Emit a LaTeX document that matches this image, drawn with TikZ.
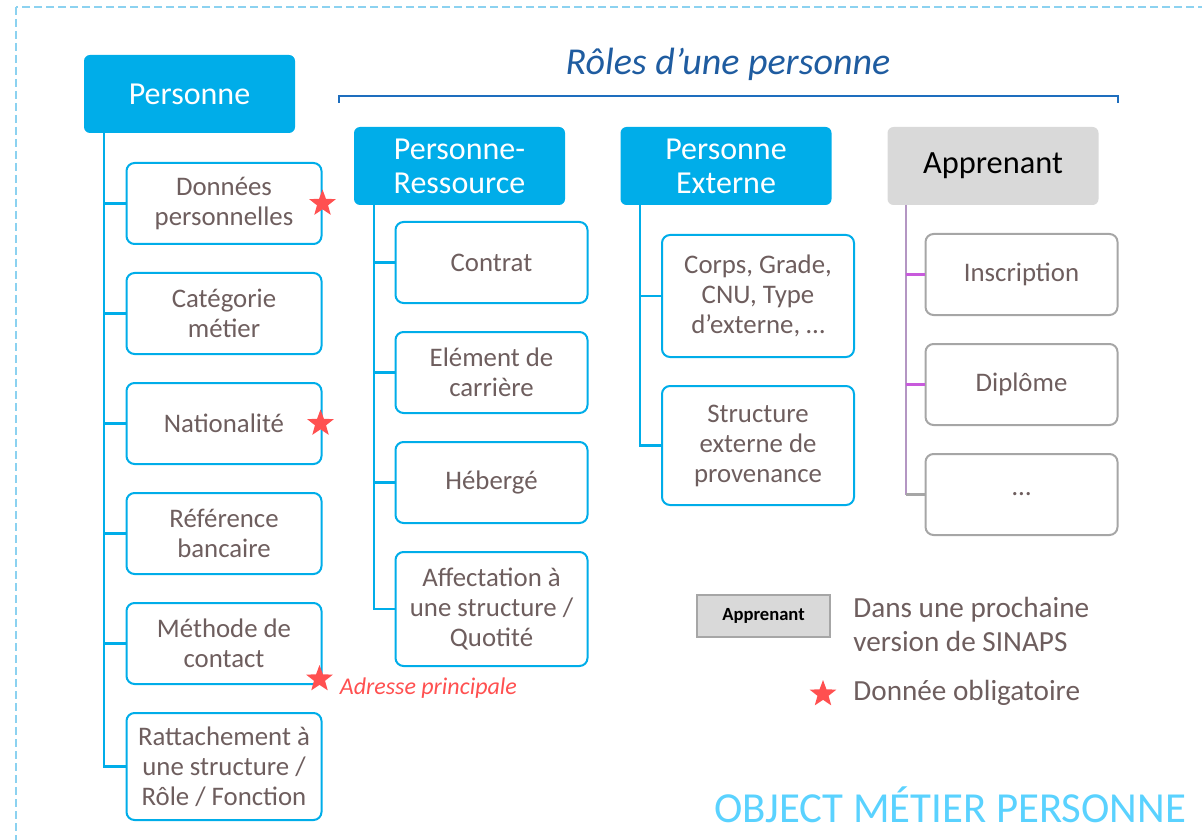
\documentclass[tikz,border=0pt]{standalone}
\usepackage{fontspec}
\setmainfont{Carlito}
\usepackage{xcolor}
\usetikzlibrary{positioning, shapes.geometric, calc}

\definecolor{hblue}{RGB}{0,173,233}
\definecolor{tgray}{RGB}{110,94,94}
\definecolor{lgray}{RGB}{217,217,217}
\definecolor{bgray}{RGB}{166,166,166}
\definecolor{tblue}{RGB}{31,92,160}
\definecolor{kblue}{RGB}{30,110,190}
\definecolor{oblue}{RGB}{90,210,255}
\definecolor{ored}{RGB}{255,80,80}
\definecolor{fblue}{RGB}{140,210,240}
\definecolor{pviol}{RGB}{200,90,220}
\definecolor{gviol}{RGB}{180,150,195}

\begin{document}
\begin{tikzpicture}[
  x=0.5pt, y=-0.5pt,
  node distance=13.5pt,
  head/.style={rectangle, rounded corners=3pt, fill=hblue, text=white,
               minimum width=105.5pt, minimum height=39pt, inner sep=2pt,
               align=center, font=\fontsize{16}{17}\selectfont},
  ghead/.style={head, fill=lgray, text=black, font=\fontsize{16.2}{18}\selectfont},
  item/.style={rectangle, rounded corners=4pt, draw=hblue, line width=1pt,
               fill=white, text=tgray, minimum width=96pt, minimum height=40.5pt,
               inner sep=2pt, align=center, font=\fontsize{13.4}{15}\selectfont},
  litem/.style={item, minimum width=97.5pt},
  gitem/.style={item, draw=bgray},
  trunk/.style={hblue, line width=1.1pt},
  gtrunk/.style={trunk, gviol},
  ptrunk/.style={trunk, pviol},
  oblig/.style={star, star points=5, star point ratio=2.4, fill=ored,
                minimum size=14pt, inner sep=0pt},
  legtxt/.style={text=tgray, inner sep=0pt, align=left,
                 font=\fontsize{14.6}{17}\selectfont},
]
\useasboundingbox (0,0) rectangle (1202,839);

%% frame
\draw[fblue, line width=1pt, dash pattern=on 4pt off 2pt] (16,7) rectangle (1230,870);

%% ---- Personne ----
\node[head] (pers) at (189.5,94) {Personne};
\node[litem] (d1) at (224,203.5) {Données\\personnelles};
\node[litem, below=of d1] (d2) {Catégorie\\métier};
\node[litem, below=of d2] (d3) {Nationalité};
\node[litem, below=of d3] (d4) {Référence\\bancaire};
\node[litem, below=of d4] (d5) {Méthode de\\contact};
\node[litem, below=of d5, minimum height=53.5pt] (d6) {Rattachement à\\une structure /\\Rôle / Fonction};

\coordinate (tp) at ([xshift=10pt]pers.south west);
\draw[trunk] (tp) |- (d6.west);
\foreach \n in {d1,d2,d3,d4,d5}
  \draw[trunk] (tp |- \n.west) -- (\n.west);

%% mandatory data
\node[oblig] (s1) at (d1.east) {};
\node[oblig] (s2) at ([xshift=-1pt]d3.east) {};
\node[oblig] (s3) at ([xshift=-1.5pt,yshift=3pt]d5.south east) {};
\node[anchor=west, inner sep=0pt, text=ored, font=\fontsize{12}{14}\selectfont\itshape]
      (adr) at ([xshift=10pt,yshift=-4.5pt]s3.center) {Adresse principale};

%% ---- Roles ----
\node[text=tblue, font=\fontsize{19}{22}\selectfont\itshape] (roles) at (728,64) {Rôles d’une personne};
\draw[kblue, line width=1pt] (339,103) -- (339,96) -- (1118,96) -- (1118,103);

%% Personne-Ressource
\node[head] (pres) at (459.5,166) {Personne-\\Ressource};
\node[item] (r1) at (491.5,262.5) {Contrat};
\node[item, below=of r1] (r2) {Elément de\\carrière};
\node[item, below=of r2] (r3) {Hébergé};
\node[item, below=of r3, minimum height=57pt] (r4) {Affectation à\\une structure /\\Quotité};

\coordinate (tr) at ([xshift=10pt]pres.south west);
\draw[trunk] (tr) |- (r4.west);
\foreach \n in {r1,r2,r3}
  \draw[trunk] (tr |- \n.west) -- (\n.west);

%% Personne Externe
\node[head] (pext) at (726,166) {Personne\\Externe};
\node[item, minimum height=61pt] (e1) at (758,296) {Corps, Grade,\\CNU, Type\\d’externe, …};
\node[item, below=of e1, minimum height=59.5pt] (e2) {Structure\\externe de\\provenance};

\coordinate (te) at ([xshift=10pt]pext.south west);
\draw[trunk] (te) |- (e2.west);
\draw[trunk] (te |- e1.west) -- (e1.west);

%% Apprenant
\node[ghead] (appr) at (993,166) {Apprenant};
\node[gitem] (a1) at (1021.5,274.5) {Inscription};
\node[gitem, below=of a1] (a2) {Diplôme};
\node[gitem, below=of a2] (a3) {…};

\coordinate (ta) at ([xshift=9.5pt]appr.south west);
\draw[gtrunk] (ta) -- (ta |- a3.west);
\draw[trunk, bgray] (ta |- a3.west) -- (a3.west);
\foreach \n in {a1,a2}
  \draw[ptrunk] (ta |- \n.west) -- (\n.west);

%% ---- legend ----
\node[rectangle, draw=bgray, fill=lgray, line width=1pt, minimum width=66.5pt,
      minimum height=21pt, font=\fontsize{9.3}{11}\selectfont\bfseries] (lapp) at (763.5,616) {Apprenant};
\node[legtxt, anchor=west] (lnext) at (853,624) {Dans une prochaine\\version de SINAPS};
\node[oblig] (lstar) at (823,694) {};
\node[legtxt, anchor=west] (lobl) at (853,693) {Donnée obligatoire};

\node[text=oblue, font=\fontsize{21.4}{25}\selectfont] (obj) at (950,805) {OBJECT MÉTIER PERSONNE};
\end{tikzpicture}
\end{document}
